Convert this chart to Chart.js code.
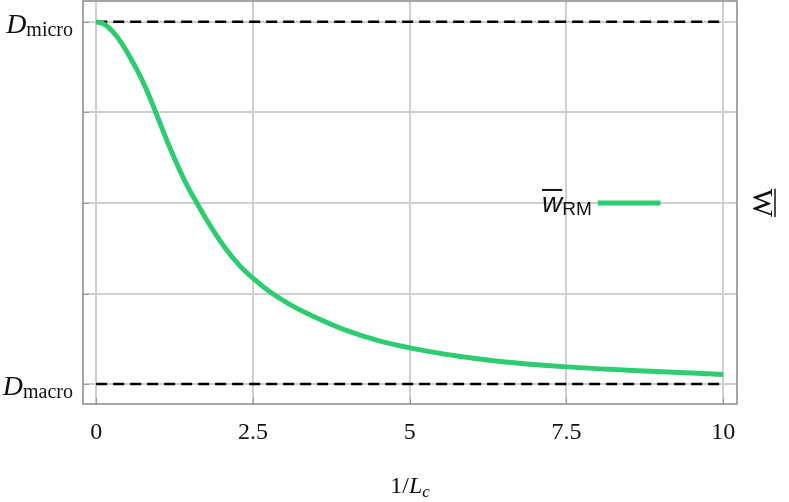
<!DOCTYPE html>
<html>
<head>
<meta charset="utf-8">
<script src="https://cdn.jsdelivr.net/npm/chart.js@4"></script>
<style>
  html, body { margin: 0; padding: 0; background: #fff; }
  #wrap { width: 789px; height: 502px; }
</style>
</head>
<body>
<div id="wrap"><canvas id="chart"></canvas></div>
<script>
// values
const xTicks = [0, 2.5, 5, 7.5, 10];
const yTicks = [0, 1, 2, 3, 4];
const levelMacro = 0;
const levelMicro = 4;
const levelNames = ["macro", "micro"];
const dashX = [0, 10];
const curveX = [0, 0.14, 0.28, 0.41, 0.54, 0.68, 0.81, 0.94, 1.07, 1.2, 1.34, 1.46, 1.58, 1.8, 2.06, 2.3, 2.5, 2.77, 3.1, 3.52, 4, 4.5, 5, 5.76, 6.44, 7.5, 8.75, 10];
const curveY = [4, 3.97, 3.88, 3.76, 3.61, 3.43, 3.24, 3.02, 2.79, 2.57, 2.35, 2.18, 2.03, 1.77, 1.5, 1.3, 1.17, 1.02, 0.875, 0.73, 0.59, 0.48, 0.4, 0.31, 0.25, 0.19, 0.145, 0.107];
const legendX = [8, 9];
const legendY = 2;

const green = "#2ecc71";
const serif = "'Liberation Serif', serif";
const sans = "'Liberation Sans', Arial, sans-serif";

const textPlugin = {
    id: "textPlugin",
    beforeDatasetsDraw(chart) {
        const ctx = chart.ctx, a = chart.chartArea;
        const xs = chart.scales.x, ys = chart.scales.y;
        ctx.save();
        // small inner tick marks
        ctx.strokeStyle = "#999";
        ctx.lineWidth = 1;
        xTicks.forEach(function(v) {
            const px = Math.round(xs.getPixelForValue(v)) + 0.5;
            ctx.beginPath(); ctx.moveTo(px, a.bottom); ctx.lineTo(px, a.bottom - 6); ctx.stroke();
        });
        yTicks.forEach(function(v) {
            const py = Math.round(ys.getPixelForValue(v)) + 0.5;
            ctx.beginPath(); ctx.moveTo(a.left, py); ctx.lineTo(a.left + 6, py); ctx.stroke();
        });
        ctx.restore();
    },
    afterDraw(chart) {
        const ctx = chart.ctx, a = chart.chartArea;
        const xs = chart.scales.x, ys = chart.scales.y;
        ctx.save();
        // frame
        ctx.strokeStyle = "#888";
        ctx.lineWidth = 1.5;
        ctx.strokeRect(a.left, a.top, a.right - a.left, a.bottom - a.top);

        // left labels D_macro, D_micro
        ctx.fillStyle = "#111";
        ctx.textBaseline = "alphabetic";
        [levelMacro, levelMicro].forEach(function(v, i) {
            const py = ys.getPixelForValue(v);
            ctx.font = "20px " + serif;
            const subW = ctx.measureText(levelNames[i]).width;
            const right = a.left - 10;
            ctx.textAlign = "right";
            ctx.fillText(levelNames[i], right, py + 14);
            ctx.font = "italic 28px " + serif;
            ctx.fillText("D", right - subW, py + 11);
        });

        // x title 1/L_c
        const cx = (a.left + a.right) / 2;
        const by = 493;
        ctx.textAlign = "left";
        ctx.font = "24px " + serif;
        const p1 = "1/";
        const w1 = ctx.measureText(p1).width;
        ctx.font = "italic 24px " + serif;
        const w2 = ctx.measureText("L").width;
        ctx.font = "italic 17px " + serif;
        const w3 = ctx.measureText("c").width;
        let sx = cx - (w1 + w2 + w3) / 2;
        ctx.font = "24px " + serif;
        ctx.fillText(p1, sx, by);
        ctx.font = "italic 24px " + serif;
        ctx.fillText("L", sx + w1, by);
        ctx.font = "italic 17px " + serif;
        ctx.fillText("c", sx + w1 + w2, by + 4);

        // legend inside the plot
        const lx0 = xs.getPixelForValue(legendX[0]);
        const lx1 = xs.getPixelForValue(legendX[1]);
        const ly = ys.getPixelForValue(legendY);
        ctx.strokeStyle = green;
        ctx.lineWidth = 5;
        ctx.beginPath(); ctx.moveTo(lx0, ly); ctx.lineTo(lx1, ly); ctx.stroke();
        ctx.fillStyle = "#111";
        ctx.font = "19px " + sans;
        ctx.textAlign = "right";
        const rmW = ctx.measureText("RM").width;
        ctx.fillText("RM", lx0 - 6, ly + 12);
        ctx.font = "italic 28px " + sans;
        const wW = ctx.measureText("w").width;
        const wx = lx0 - 6 - rmW - wW;
        ctx.textAlign = "left";
        ctx.fillText("w", wx, ly + 9);
        ctx.strokeStyle = "#111";
        ctx.lineWidth = 2;
        ctx.beginPath(); ctx.moveTo(wx, ly - 13); ctx.lineTo(wx + wW, ly - 13); ctx.stroke();

        // right title W with bar, rotated
        ctx.translate(a.right + 16, ys.getPixelForValue(legendY));
        ctx.rotate(Math.PI / 2);
        ctx.font = "30px " + serif;
        ctx.textAlign = "center";
        ctx.fillText("W", 0, 0);
        const WW = ctx.measureText("W").width;
        ctx.lineWidth = 1.5;
        ctx.beginPath(); ctx.moveTo(-WW / 2, -22); ctx.lineTo(WW / 2, -22); ctx.stroke();
        ctx.restore();
    }
};

new Chart(document.getElementById("chart"), {
    type: "line",
    data: {
        datasets: [
            {
                label: "wRM",
                data: curveX.map(function(x, i) { return { x: x, y: curveY[i] }; }),
                borderColor: green,
                borderWidth: 5,
                pointRadius: 0,
                cubicInterpolationMode: "monotone",
                borderCapStyle: "butt"
            },
            {
                label: "micro",
                data: dashX.map(function(x) { return { x: x, y: levelMicro }; }),
                borderColor: "#000",
                borderWidth: 2.5,
                borderDash: [11, 6],
                pointRadius: 0
            },
            {
                label: "macro",
                data: dashX.map(function(x) { return { x: x, y: levelMacro }; }),
                borderColor: "#000",
                borderWidth: 2.5,
                borderDash: [11, 6],
                pointRadius: 0
            }
        ]
    },
    options: {
        responsive: true,
        maintainAspectRatio: false,
        animation: false,
        layout: { padding: { top: 1, right: 52, left: 0, bottom: 0 } },
        plugins: {
            legend: { display: false },
            tooltip: { enabled: false }
        },
        scales: {
            x: {
                type: "linear",
                min: -0.21,
                max: 10.22,
                afterBuildTicks: function(s) { s.ticks = xTicks.map(function(v) { return { value: v }; }); },
                afterFit: function(s) { s.height = 98; },
                ticks: {
                    padding: 14,
                    color: "#111",
                    font: { family: serif, size: 24 },
                    callback: function(v) { return String(v); }
                },
                grid: { color: "#cfcfcf", lineWidth: 2, drawTicks: false },
                border: { display: false }
            },
            y: {
                type: "linear",
                min: -0.22,
                max: 4.23,
                afterBuildTicks: function(s) { s.ticks = yTicks.map(function(v) { return { value: v }; }); },
                afterFit: function(s) { s.width = 83; },
                ticks: { display: false },
                grid: { color: "#cfcfcf", lineWidth: 2, drawTicks: false },
                border: { display: false }
            }
        }
    },
    plugins: [textPlugin]
});
</script>
</body>
</html>
